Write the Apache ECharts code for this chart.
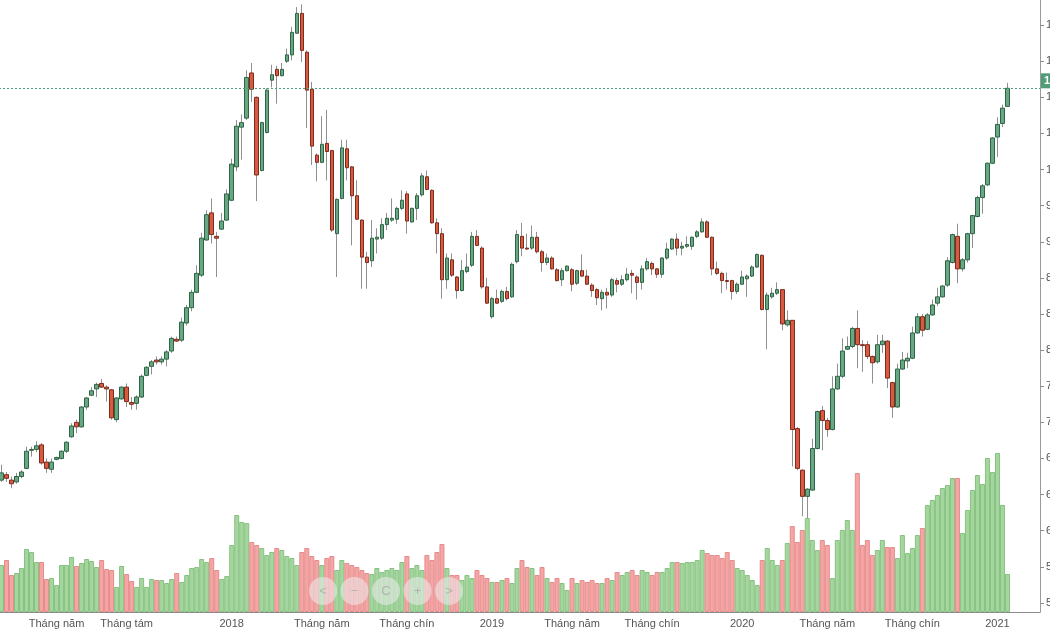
<!DOCTYPE html>
<html>
<head>
<meta charset="utf-8">
<title>Biểu đồ tuần</title>
<script src="https://cdn.jsdelivr.net/npm/echarts@6/dist/echarts.min.js"></script>
<style>
html, body { margin: 0; padding: 0; background: #fff; }
#div_chart { width: 1050px; height: 630px; }
</style>
</head>
<body>
<div id="div_chart"></div>
<script>
// nến tuần: [mở, đóng, thấp, cao]
var candles = [
    [656, 664, 654, 673], [662, 658, 654, 665], [656, 652, 647, 660], [654, 660, 652, 664], [660, 665, 658, 667],
    [669, 688, 668, 693], [689, 690, 682, 693], [690, 694, 687, 699], [695, 675, 673, 697], [676, 669, 664, 680],
    [668, 676, 664, 680], [679, 681, 678, 682], [680, 688, 679, 689], [688, 698, 686, 699], [704, 716, 703, 719],
    [720, 715, 708, 723], [715, 737, 714, 738], [737, 747, 734, 748], [750, 755, 749, 759], [757, 762, 748, 764],
    [763, 759, 758, 768], [759, 757, 743, 761], [756, 725, 723, 757], [723, 747, 720, 748], [746, 759, 745, 760],
    [759, 743, 737, 763], [742, 740, 734, 748], [741, 748, 734, 750], [748, 771, 747, 773], [772, 781, 771, 782],
    [782, 787, 773, 789], [789, 787, 784, 793], [787, 790, 784, 793], [790, 798, 782, 800], [799, 813, 797, 815],
    [812, 810, 809, 815], [811, 831, 809, 836], [830, 847, 827, 850], [847, 864, 843, 867], [864, 885, 863, 894],
    [883, 924, 881, 930], [922, 950, 921, 955], [952, 928, 918, 968], [926, 924, 881, 931], [934, 943, 933, 952],
    [944, 973, 943, 978], [966, 1006, 965, 1012], [1003, 1048, 998, 1055], [1047, 1052, 1011, 1061], [1057, 1102, 1055, 1110],
    [1107, 1089, 1075, 1118], [1080, 994, 965, 1081], [999, 1052, 998, 1053], [1041, 1088, 1040, 1090], [1099, 1105, 1091, 1116],
    [1111, 1104, 1073, 1115], [1104, 1111, 1103, 1118], [1120, 1127, 1118, 1134], [1127, 1152, 1121, 1158], [1151, 1173, 1151, 1180],
    [1173, 1132, 1119, 1183], [1130, 1088, 1046, 1132], [1089, 1026, 1005, 1097], [1016, 1008, 987, 1018], [1008, 1028, 1007, 1059],
    [1029, 1020, 988, 1066], [1021, 933, 931, 1022], [929, 967, 881, 968], [968, 1024, 967, 1033], [1023, 1002, 988, 1033],
    [1003, 971, 916, 1004], [971, 945, 944, 988], [944, 903, 868, 945], [903, 897, 868, 909], [899, 924, 892, 944],
    [923, 925, 907, 935], [924, 939, 922, 946], [939, 946, 933, 952], [944, 946, 942, 968], [945, 957, 940, 959],
    [957, 966, 955, 977], [973, 943, 929, 976], [942, 957, 941, 958], [957, 971, 944, 974], [972, 993, 970, 996],
    [992, 978, 977, 999], [977, 941, 940, 978], [941, 929, 907, 946], [929, 878, 857, 935], [878, 902, 868, 907],
    [900, 883, 881, 907], [881, 866, 857, 882], [866, 888, 865, 900], [887, 892, 885, 907], [894, 926, 892, 931],
    [926, 916, 915, 933], [913, 870, 868, 915], [870, 852, 851, 880], [837, 857, 835, 859], [857, 852, 851, 867],
    [854, 865, 852, 867], [865, 857, 855, 870], [859, 895, 858, 897], [898, 928, 896, 933], [926, 913, 904, 941],
    [913, 912, 911, 929], [913, 925, 911, 938], [925, 909, 907, 931], [909, 897, 887, 911], [897, 902, 894, 907],
    [902, 890, 889, 904], [889, 877, 876, 891], [878, 888, 871, 891], [888, 893, 887, 894], [889, 873, 865, 891],
    [874, 888, 872, 889], [888, 882, 881, 906], [882, 873, 872, 889], [872, 866, 859, 874], [867, 858, 850, 869],
    [857, 864, 844, 867], [864, 861, 846, 869], [861, 878, 859, 880], [877, 873, 864, 880], [873, 878, 871, 883],
    [878, 884, 876, 891], [885, 883, 863, 889], [881, 875, 856, 883], [875, 890, 867, 894], [890, 898, 888, 902],
    [896, 890, 883, 898], [890, 884, 880, 891], [884, 902, 880, 903], [902, 912, 900, 919], [912, 923, 911, 924],
    [923, 913, 905, 929], [913, 915, 905, 920], [915, 917, 913, 926], [915, 925, 911, 926], [926, 931, 924, 933],
    [931, 942, 930, 946], [942, 925, 924, 944], [925, 890, 883, 926], [890, 885, 883, 898], [885, 877, 863, 887],
    [877, 876, 867, 886], [877, 865, 856, 878], [865, 873, 862, 875], [873, 881, 872, 888], [879, 882, 859, 884],
    [882, 892, 881, 894], [892, 906, 891, 907], [905, 845, 844, 906], [845, 861, 801, 864], [859, 863, 857, 869],
    [863, 867, 861, 875], [867, 829, 822, 867], [828, 833, 826, 844], [833, 712, 671, 833], [713, 669, 667, 715],
    [667, 638, 616, 668], [638, 646, 614, 647], [645, 691, 644, 702], [691, 732, 690, 733], [733, 722, 689, 738],
    [722, 712, 704, 725], [712, 757, 711, 771], [757, 771, 756, 785], [771, 799, 769, 813], [801, 804, 800, 815],
    [804, 824, 802, 826], [824, 806, 780, 844], [806, 805, 776, 811], [806, 793, 790, 810], [793, 786, 763, 794],
    [787, 806, 785, 817], [806, 810, 797, 817], [810, 769, 758, 811], [764, 737, 725, 765], [737, 779, 736, 785],
    [779, 789, 778, 798], [788, 791, 780, 797], [791, 819, 790, 826], [819, 837, 818, 841], [837, 822, 815, 840],
    [823, 839, 822, 841], [839, 850, 838, 856], [852, 859, 849, 869], [859, 871, 858, 872], [872, 899, 870, 903],
    [897, 928, 896, 929], [926, 890, 874, 940], [890, 900, 887, 902], [900, 929, 897, 930], [929, 949, 913, 950],
    [948, 969, 947, 971], [969, 982, 951, 984], [983, 1007, 982, 1008], [1007, 1035, 1006, 1036], [1036, 1050, 1014, 1058],
    [1051, 1068, 1047, 1072], [1070, 1090, 1070, 1096]
];
// khối lượng tuần
var volumes = [
    470, 520, 370, 390, 440, 630, 600, 500, 500, 330, 340, 270, 470, 470, 550, 460, 490, 530, 510, 450,
    520, 430, 420, 250, 460, 380, 310, 250, 340, 250, 330, 320, 320, 290, 330, 390, 300, 370, 440, 450,
    530, 500, 540, 420, 330, 360, 670, 970, 900, 890, 700, 670, 640, 570, 600, 640, 620, 560, 540, 470,
    600, 640, 560, 520, 470, 540, 560, 420, 520, 490, 470, 450, 420, 390, 380, 440, 400, 420, 440, 420,
    500, 560, 440, 470, 420, 570, 520, 600, 680, 440, 370, 370, 320, 370, 340, 420, 370, 340, 300, 300,
    320, 340, 290, 440, 520, 450, 440, 370, 450, 340, 300, 340, 290, 220, 340, 290, 320, 300, 320, 290,
    290, 340, 320, 400, 370, 400, 420, 370, 420, 400, 370, 400, 400, 440, 500, 500, 490, 500, 500, 520,
    620, 590, 570, 570, 540, 600, 520, 440, 420, 370, 320, 270, 520, 640, 520, 470, 520, 690, 860, 700,
    820, 940, 720, 620, 720, 670, 340, 720, 820, 920, 820, 1390, 670, 720, 570, 620, 720, 650, 650, 540,
    770, 590, 640, 770, 840, 1070, 1120, 1170, 1240, 1270, 1340, 1340, 790, 1020, 1220, 1370, 1280, 1540, 1400, 1590,
    1070, 380
];
// vị trí nhãn trục thời gian
var tickIndex = [11, 25, 46, 64, 81, 98, 114, 130, 148, 165, 182, 199];
var tickNames = ['Tháng năm', 'Tháng tám', '2018', 'Tháng năm', 'Tháng chín', '2019',
    'Tháng năm', 'Tháng chín', '2020', 'Tháng năm', 'Tháng chín', '2021'];
var priceMin = 480;
var priceMax = 1200;
var priceStep = 40;
var emptyWeeks = 6;
var navIcons = ['<', '−', 'C', '+', '>'];

var appWeekChart = {
    chart: null,
    font: '"Liberation Sans", Arial, sans-serif',
    init: function init() {
        var that = this;
        that.chart = echarts.init(document.getElementById('div_chart'), null, { renderer: 'canvas' });
        that.chart.setOption(that.getOption());
    },
    getWeeks: function getWeeks() {
        var weeks = [];
        for (var i = 0; i < candles.length + emptyWeeks; i++) {
            weeks.push('T' + (i + 1));
        }
        return weeks;
    },
    //thân nến không có râu
    getBodies: function getBodies() {
        return candles.map(function (c) {
            return [c[0], c[1], Math.min(c[0], c[1]), Math.max(c[0], c[1])];
        });
    },
    getVolumes: function getVolumes() {
        return volumes.map(function (v, i) {
            var up = candles[i][1] >= candles[i][0];
            return {
                value: v,
                itemStyle: {
                    color: up ? '#a6d6a0' : '#f6a5a5',
                    borderColor: up ? '#86c27f' : '#e48b8b',
                    borderWidth: 1
                }
            };
        });
    },
    getNav: function getNav() {
        var items = [];
        for (var i = 0; i < navIcons.length; i++) {
            var cx = 323 + i * 31.5;
            items.push({
                type: 'circle',
                shape: { cx: cx, cy: 591, r: 14 },
                style: { fill: 'rgba(236,236,236,0.55)' },
                z: 100
            });
            items.push({
                type: 'text',
                x: cx,
                y: 591,
                style: {
                    text: navIcons[i],
                    align: 'center',
                    verticalAlign: 'middle',
                    fill: 'rgba(170,170,170,0.8)',
                    font: '13px ' + this.font
                },
                z: 101
            });
        }
        return items;
    },
    getOption: function getOption() {
        var that = this;
        var weeks = that.getWeeks();
        var last = candles[candles.length - 1][1];
        var showTick = function (index) {
            return tickIndex.indexOf(index) >= 0;
        };
        return {
            animation: false,
            backgroundColor: '#ffffff',
            textStyle: { fontFamily: that.font },
            grid: [
                { left: -1, right: 10, top: -11, height: 650, containLabel: false, outerBoundsMode: 'none' },
                { left: -1, right: 10, top: 0, bottom: 18, containLabel: false, outerBoundsMode: 'none' }
            ],
            xAxis: [{
                type: 'category',
                gridIndex: 0,
                data: weeks,
                show: false
            }, {
                type: 'category',
                gridIndex: 1,
                data: weeks,
                axisLine: { lineStyle: { color: '#8c8c8c' } },
                axisTick: { alignWithLabel: true, length: 3, interval: showTick, lineStyle: { color: '#8c8c8c' } },
                axisLabel: {
                    interval: showTick,
                    color: '#555',
                    fontSize: 11,
                    margin: 6,
                    formatter: function (value, index) {
                        var k = tickIndex.indexOf(index);
                        return k >= 0 ? tickNames[k] : '';
                    }
                }
            }],
            yAxis: [{
                type: 'value',
                gridIndex: 0,
                position: 'right',
                min: priceMin,
                max: priceMax,
                interval: priceStep,
                axisLine: { show: false },
                axisTick: { show: true, length: 4, lineStyle: { color: '#8c8c8c' } },
                axisLabel: {
                    color: '#555',
                    fontSize: 11,
                    margin: 6,
                    showMinLabel: false,
                    showMaxLabel: false,
                    formatter: function (v) {
                        return String(v);
                    }
                },
                splitLine: { show: false }
            }, {
                type: 'value',
                gridIndex: 1,
                position: 'right',
                min: 0,
                max: 6120,
                axisLine: { show: true, lineStyle: { color: '#9a9a9a' } },
                axisTick: { show: false },
                axisLabel: { show: false },
                splitLine: { show: false }
            }],
            series: [{
                //khối lượng
                type: 'bar',
                xAxisIndex: 1,
                yAxisIndex: 1,
                barWidth: '100%',
                data: that.getVolumes(),
                z: 1
            }, {
                //râu nến
                type: 'candlestick',
                xAxisIndex: 0,
                yAxisIndex: 0,
                barWidth: 1,
                data: candles,
                itemStyle: {
                    color: '#8f8f8f',
                    color0: '#8f8f8f',
                    borderColor: '#8f8f8f',
                    borderColor0: '#8f8f8f',
                    borderWidth: 1
                },
                z: 3
            }, {
                //thân nến
                type: 'candlestick',
                xAxisIndex: 0,
                yAxisIndex: 0,
                barWidth: 4,
                data: that.getBodies(),
                itemStyle: {
                    color: '#67a882',
                    color0: '#d85a40',
                    borderColor: '#2f6446',
                    borderColor0: '#7e2b1e',
                    borderWidth: 1
                },
                markLine: {
                    silent: true,
                    symbol: ['none', 'none'],
                    data: [{ yAxis: last }],
                    lineStyle: { type: [2, 2], color: '#4f9c76', width: 1 },
                    label: {
                        show: true,
                        position: 'end',
                        distance: 1,
                        formatter: String(last),
                        backgroundColor: '#4f9c76',
                        color: '#fff',
                        fontSize: 11,
                        fontWeight: 'bold',
                        padding: [2, 3, 2, 3],
                        verticalAlign: 'bottom'
                    }
                },
                z: 4
            }],
            graphic: that.getNav()
        };
    }
};
window.onload = function () {
    appWeekChart.init();
};
</script>
</body>
</html>
